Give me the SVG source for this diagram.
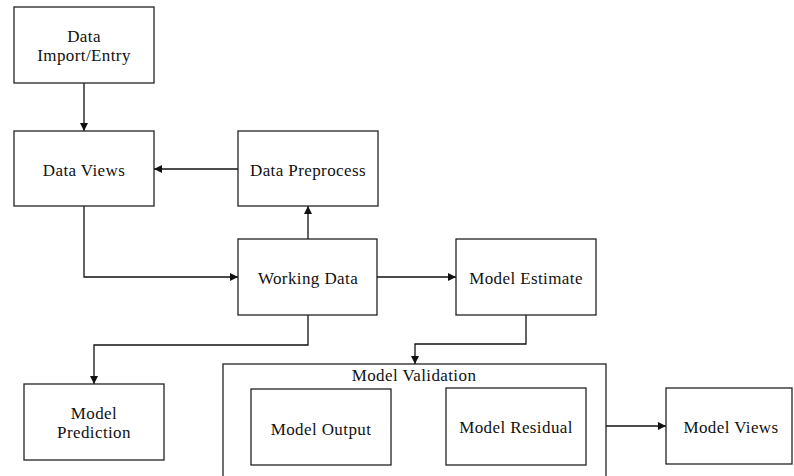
<svg xmlns="http://www.w3.org/2000/svg" width="794" height="476" viewBox="0 0 794 476">
<style>
.box{fill:#fff;stroke:#222;stroke-width:1.3}
.t{font-family:"Liberation Serif","Times New Roman",serif;font-size:17px;fill:#111;text-anchor:middle;letter-spacing:0.4px}
.c{fill:none;stroke:#111;stroke-width:1.3}
</style>
<defs>
<marker id="ah" viewBox="0 0 10 10" refX="10" refY="5" markerWidth="8" markerHeight="8" markerUnits="userSpaceOnUse" orient="auto">
<path d="M0,0 L10,5 L0,10 Z" fill="#111"/>
</marker>
</defs>
<rect width="794" height="476" fill="#fff"/>
<g id="connectors">
<path class="c" d="M84,83 V131" marker-end="url(#ah)"/>
<path class="c" d="M238,169 H154" marker-end="url(#ah)"/>
<path class="c" d="M308,239 V206" marker-end="url(#ah)"/>
<path class="c" d="M84,206 V277 H238" marker-end="url(#ah)"/>
<path class="c" d="M377,277 H456" marker-end="url(#ah)"/>
<path class="c" d="M308,315 V345 H94 V384" marker-end="url(#ah)"/>
<path class="c" d="M526,315 V344 H415 V364" marker-end="url(#ah)"/>
<path class="c" d="M586,426 H666" marker-end="url(#ah)"/>
</g>
<g id="model-validation">
<rect class="box" x="223" y="364" width="383" height="120"/>
<text class="t" x="414" y="381">Model Validation</text>
</g>
<g id="data-import">
<rect class="box" x="14" y="7" width="140" height="76"/>
<text class="t" x="84" y="42">Data</text>
<text class="t" x="84" y="61">Import/Entry</text>
</g>
<g id="data-views">
<rect class="box" x="14" y="131" width="140" height="75"/>
<text class="t" x="84" y="176">Data Views</text>
</g>
<g id="data-preprocess">
<rect class="box" x="238" y="131" width="140" height="75"/>
<text class="t" x="308" y="176">Data Preprocess</text>
</g>
<g id="working-data">
<rect class="box" x="238" y="239" width="139" height="76"/>
<text class="t" x="308" y="284">Working Data</text>
</g>
<g id="model-estimate">
<rect class="box" x="456" y="239" width="140" height="76"/>
<text class="t" x="526" y="284">Model Estimate</text>
</g>
<g id="model-prediction">
<rect class="box" x="24" y="384" width="140" height="76"/>
<text class="t" x="94" y="419">Model</text>
<text class="t" x="94" y="438">Prediction</text>
</g>
<g id="model-output">
<rect class="box" x="251" y="389" width="140" height="76"/>
<text class="t" x="321" y="435">Model Output</text>
</g>
<g id="model-residual">
<rect class="box" x="446" y="388" width="140" height="77"/>
<text class="t" x="516" y="433">Model Residual</text>
</g>
<g id="model-views">
<rect class="box" x="666" y="388" width="126" height="76"/>
<text class="t" x="731" y="433">Model Views</text>
</g>
</svg>
